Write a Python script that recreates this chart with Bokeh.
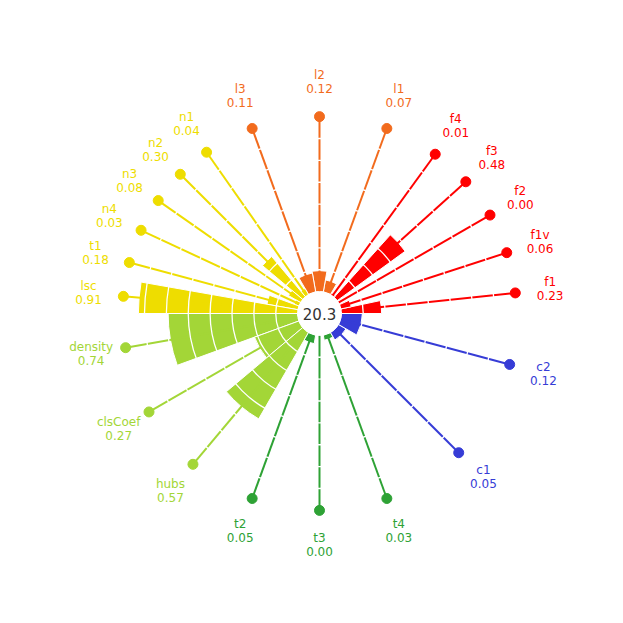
import numpy as np
from bokeh.plotting import figure
from bokeh.embed import file_html
from bokeh.resources import INLINE
from bokeh.core.properties import value
from bokeh.models import ColumnDataSource, Range1d

# ---- data ----
group_names = ["red", "orange", "yellow", "lightgreen", "green", "blue"]
group_colors = ["#ff0000", "#f26b1d", "#eedd00", "#a3d637", "#2ea235", "#363cd6"]
red_names = ["f1", "f1v", "f2", "f3", "f4"]
red_values = [0.23, 0.06, 0.00, 0.48, 0.01]
orange_names = ["l1", "l2", "l3"]
orange_values = [0.07, 0.12, 0.11]
yellow_names = ["n1", "n2", "n3", "n4", "t1", "lsc"]
yellow_values = [0.04, 0.30, 0.08, 0.03, 0.18, 0.91]
lightgreen_names = ["density", "clsCoef", "hubs"]
lightgreen_values = [0.74, 0.27, 0.57]
green_names = ["t2", "t3", "t4"]
green_values = [0.05, 0.00, 0.03]
blue_names = ["c1", "c2"]
blue_values = [0.05, 0.12]
center_value = "20.3"

groups = [
    (red_names, red_values),
    (orange_names, orange_values),
    (yellow_names, yellow_values),
    (lightgreen_names, lightgreen_values),
    (green_names, green_values),
    (blue_names, blue_values),
]

R0 = 0.125          # inner hole radius (data units)
RING_STEP = 0.125
LABEL_R = 1.325

names, vals, cols, starts, ends, mids = [], [], [], [], [], []
span = 2 * np.pi / len(groups)
for gi, (nm, vv) in enumerate(groups):
    g0 = gi * span
    w = span / len(nm)
    for k, (n, v) in enumerate(zip(nm, vv)):
        names.append(n)
        vals.append(v)
        cols.append(group_colors[gi])
        starts.append(g0 + k * w)
        ends.append(g0 + (k + 1) * w)
        mids.append(g0 + (k + 0.5) * w)

mids = np.array(mids)
vals_a = np.array(vals)

bars = ColumnDataSource(dict(
    x=[0] * len(names), y=[0] * len(names),
    inner=[R0] * len(names), outer=list(R0 + vals_a),
    start=starts, end=ends, color=cols))

spokes = ColumnDataSource(dict(
    xs=[[R0 * np.cos(a), (R0 + 1) * np.cos(a)] for a in mids],
    ys=[[R0 * np.sin(a), (R0 + 1) * np.sin(a)] for a in mids],
    color=cols))

dots = ColumnDataSource(dict(
    x=list((R0 + 1) * np.cos(mids)), y=list((R0 + 1) * np.sin(mids)), color=cols))

labels = ColumnDataSource(dict(
    x=list(LABEL_R * np.cos(mids)), y=list(LABEL_R * np.sin(mids)),
    text=[f"{n}\n{v:.2f}" for n, v in zip(names, vals)], color=cols))

# ---- figure ----
W = H = 607
S = 175.0   # px per data unit
cx, cy = 319.0, 313.0
p = figure(width=W, height=H, output_backend="svg", toolbar_location=None,
           x_axis_location=None, y_axis_location=None, min_border=0,
           x_range=Range1d(-cx / S, (W - cx) / S),
           y_range=Range1d(-(H - cy) / S, cy / S))
p.grid.visible = False
p.outline_line_color = None
p.background_fill_color = "white"

p.annular_wedge(x="x", y="y", inner_radius="inner", outer_radius="outer",
                start_angle="start", end_angle="end", fill_color="color",
                line_color="white", line_width=1, source=bars)
p.multi_line(xs="xs", ys="ys", line_color="color", line_width=2, source=spokes)

rings = [RING_STEP * k for k in range(2, 9)]
p.circle(x=[0] * len(rings), y=[0] * len(rings), radius=rings,
         fill_color=None, line_color="white", line_width=1.3)

p.circle(x=[0], y=[0], radius=R0, fill_color="white", line_color="white")
p.scatter(x="x", y="y", size=10, fill_color="color", line_color="color", source=dots)

p.text(x="x", y="y", text="text", text_color="color", text_align="center",
       text_baseline="middle", text_font=value("DejaVu Sans"),
       text_font_size="12px", text_line_height=1.0, source=labels)
p.text(x=[0], y=[0], text=[center_value], text_color="#333333", text_align="center",
       text_baseline="middle", text_font=value("DejaVu Sans"), text_font_size="15px")

open("out.html", "w").write(file_html(p, INLINE))
